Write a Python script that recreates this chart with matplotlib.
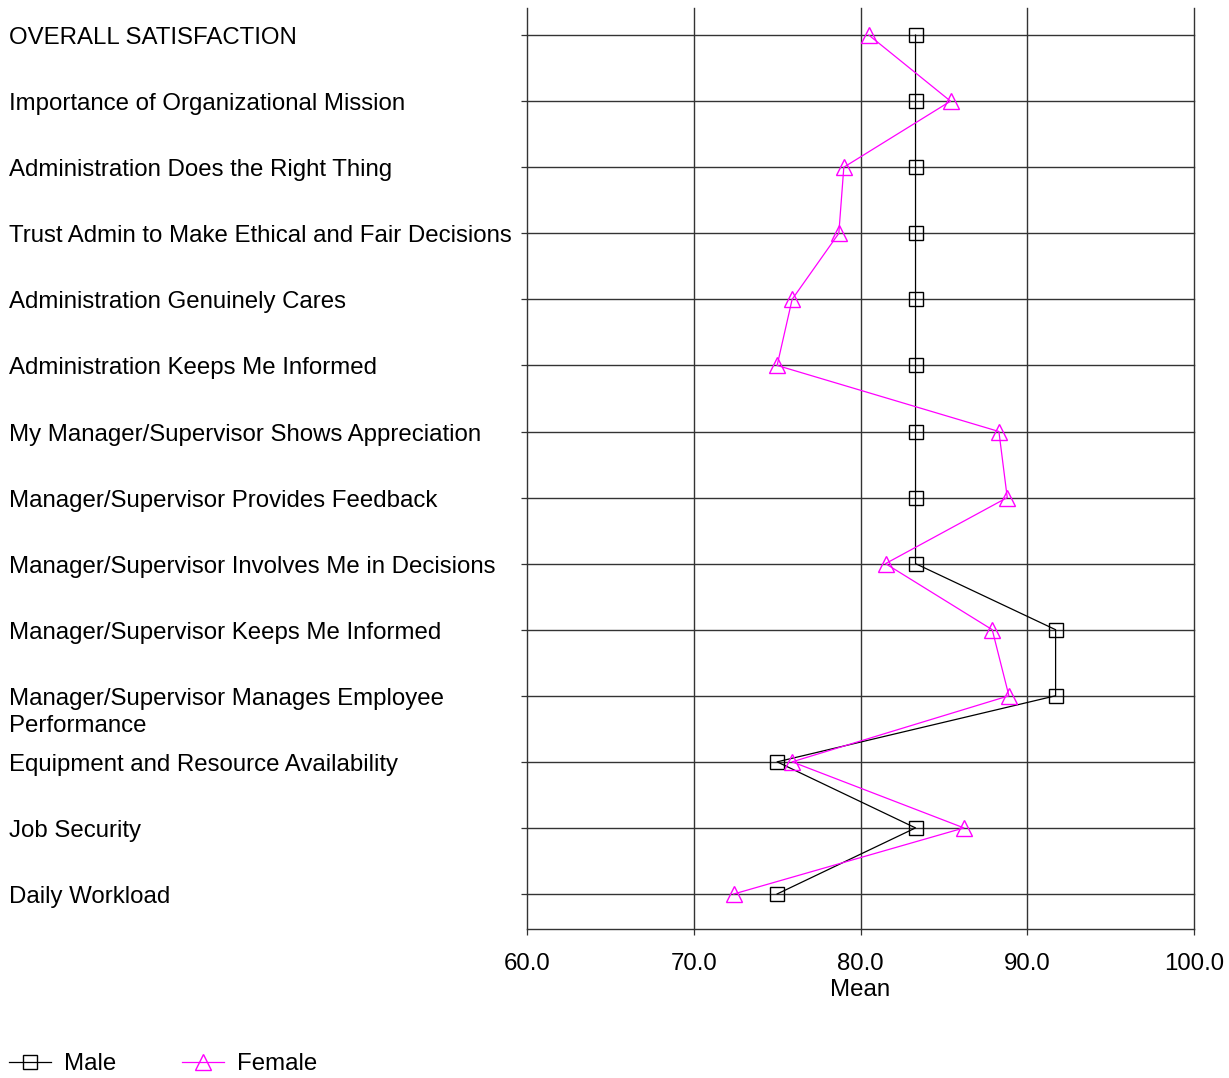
import matplotlib
matplotlib.use("Agg")
import matplotlib.pyplot as plt
from matplotlib import transforms

# categories, top to bottom
items = [
    "OVERALL SATISFACTION",
    "Importance of Organizational Mission",
    "Administration Does the Right Thing",
    "Trust Admin to Make Ethical and Fair Decisions",
    "Administration Genuinely Cares",
    "Administration Keeps Me Informed",
    "My Manager/Supervisor Shows Appreciation",
    "Manager/Supervisor Provides Feedback",
    "Manager/Supervisor Involves Me in Decisions",
    "Manager/Supervisor Keeps Me Informed",
    "Manager/Supervisor Manages Employee\nPerformance",
    "Equipment and Resource Availability",
    "Job Security",
    "Daily Workload",
]
male = [83.3, 83.3, 83.3, 83.3, 83.3, 83.3, 83.3, 83.3, 83.3, 91.7, 91.7, 75.0, 83.3, 75.0]
female = [80.5, 85.4, 79.0, 78.7, 75.9, 75.0, 88.3, 88.8, 81.5, 87.9, 88.9, 75.9, 86.2, 72.4]
xticks = [60, 70, 80, 90, 100]

plt.rcParams["font.family"] = ["Liberation Sans", "DejaVu Sans"]
FS = 17.3

W, H = 1229, 1078
fig = plt.figure(figsize=(W / 100, H / 100), dpi=100)
ax = fig.add_axes([527 / W, 1 - 929 / H, (1194 - 527) / W, (929 - 8) / H])

pos = list(range(len(items)))
ax.plot(male, pos, color="black", lw=0.9, marker="s", ms=10, mfc="none",
        mec="black", mew=1.0, label="Male", zorder=4)
ax.plot(female, pos, color="#ff00ff", lw=0.9, marker="^", ms=11, mfc="none",
        mec="#ff00ff", mew=1.0, label="Female", zorder=5)

ax.set_xlim(60, 100)
ax.set_ylim(len(items) - 1 + 0.53, -0.41)
ax.set_xticks(xticks)
ax.set_xticklabels([f"{v:.1f}" for v in xticks], fontsize=FS)
ax.set_yticks(pos)
ax.set_yticklabels([])
ax.tick_params(axis="both", length=4.5, width=0.9, color="#333333", direction="out")
ax.tick_params(axis="x", pad=13)
ax.set_xlabel("Mean", fontsize=FS, labelpad=3)

for s in ["top", "right", "left"]:
    ax.spines[s].set_visible(False)
ax.spines["bottom"].set_color("#333333")
ax.spines["bottom"].set_linewidth(1.0)

ax.grid(True, color="#333333", lw=1.0)
for gl in ax.get_xgridlines() + ax.get_ygridlines():
    gl.set_clip_on(False)
ax.set_axisbelow(True)

# category labels, left aligned at the figure edge
lab_tr = transforms.blended_transform_factory(fig.transFigure, ax.transData)
lab_tr = transforms.offset_copy(lab_tr, fig=fig, y=-2.2, units="points")
for i, lab in enumerate(items):
    for k, line in enumerate(lab.split("\n")):
        ax.text(9 / W, i + k * 0.41, line, transform=lab_tr,
                fontsize=FS, ha="left", va="center")

fig.legend(loc="center left", bbox_to_anchor=(9 / W, 1 - 1064 / H), ncol=2,
           frameon=False, fontsize=FS, handlelength=1.74, handletextpad=0.55,
           columnspacing=2.75, borderpad=0, borderaxespad=0)

fig.savefig("out.png", dpi=100)
